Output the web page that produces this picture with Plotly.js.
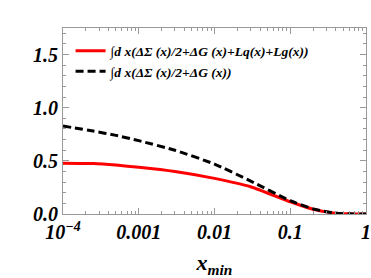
<!DOCTYPE html>
<html>
<head>
<meta charset="utf-8">
<script src="https://cdn.plot.ly/plotly-3.0.1.min.js"></script>
<style>html,body{margin:0;padding:0;background:#fff;}#chart{width:371px;height:278px;}</style>
</head>
<body>
<div id="chart"></div>
<script>
const xmin = [1e-4, 2.5e-4, 5e-4, 1e-3, 3e-3, 0.01, 0.03, 0.1, 0.2, 0.3, 0.4, 0.5, 0.7, 1];
const totalSpin = [0.478, 0.474, 0.46, 0.44, 0.40, 0.335, 0.256, 0.115, 0.045, 0.02, 0.008, 0.003, 0, 0];
const quarkGluon = [0.828, 0.78, 0.74, 0.69, 0.60, 0.47, 0.31, 0.125, 0.048, 0.022, 0.008, 0.003, 0, 0];
const seriesNames = [
  "∫d x(ΔΣ (x)/2+ΔG (x)+Lq(x)+Lg(x))",
  "∫d x(ΔΣ (x)/2+ΔG (x))"
];
const xTickVals = [1e-4, 1e-3, 0.01, 0.1, 1];
const xTickText = ["10<sup>−4</sup>", "0.001", "0.01", "0.1", "1"];
const yTickVals = [0, 0.5, 1.0, 1.5];
const yTickText = ["0.0", "0.5", "1.0", "1.5"];

const FONT = "Liberation Serif, Times New Roman, serif";
const tickFont = {family: FONT, size: 20, color: "#000", weight: "bold", style: "italic"};

const traces = [
  {x: xmin, y: totalSpin, name: seriesNames[0], mode: "lines",
   line: {color: "#ff0000", width: 3, shape: "spline", smoothing: 0.5}},
  {x: xmin, y: quarkGluon, name: seriesNames[1], mode: "lines",
   line: {color: "#000000", width: 3, dash: "8px,4px", shape: "spline", smoothing: 0.5}}
];

const layout = {
  width: 371, height: 278,
  margin: {l: 63, r: 5, t: 28, b: 64},
  paper_bgcolor: "#fff", plot_bgcolor: "#fff",
  showlegend: true,
  legend: {x: 0.025, y: 0.96, xanchor: "left", yanchor: "top",
    bgcolor: "rgba(0,0,0,0)", borderwidth: 0,
    font: {family: FONT, size: 13.5, color: "#000", weight: "bold", style: "italic"},
    itemwidth: 30, tracegroupgap: 0},
  xaxis: {type: "log", range: [-4, 0], showgrid: false, zeroline: false,
    showline: true, linecolor: "#999", linewidth: 1, mirror: "ticks",
    ticks: "inside", ticklen: 6, tickcolor: "#999",
    tickvals: xTickVals, ticktext: xTickText, tickfont: tickFont,
    minor: {ticks: "inside", ticklen: 3, tickcolor: "#999", dtick: "D1", showgrid: false},
    title: {text: "x<sub>min</sub>", standoff: 12,
      font: {family: FONT, size: 22, color: "#000", weight: "bold", style: "italic"}}},
  yaxis: {range: [0, 1.75], showgrid: false, zeroline: false,
    showline: true, linecolor: "#999", linewidth: 1, mirror: "ticks",
    ticks: "inside", ticklen: 6, tickcolor: "#999",
    tickvals: yTickVals, ticktext: yTickText, tickfont: tickFont,
    minor: {ticks: "inside", ticklen: 3, tickcolor: "#999", dtick: 0.1, showgrid: false}}
};

Plotly.newPlot("chart", traces, layout, {staticPlot: true, displayModeBar: false});
</script>
</body>
</html>
